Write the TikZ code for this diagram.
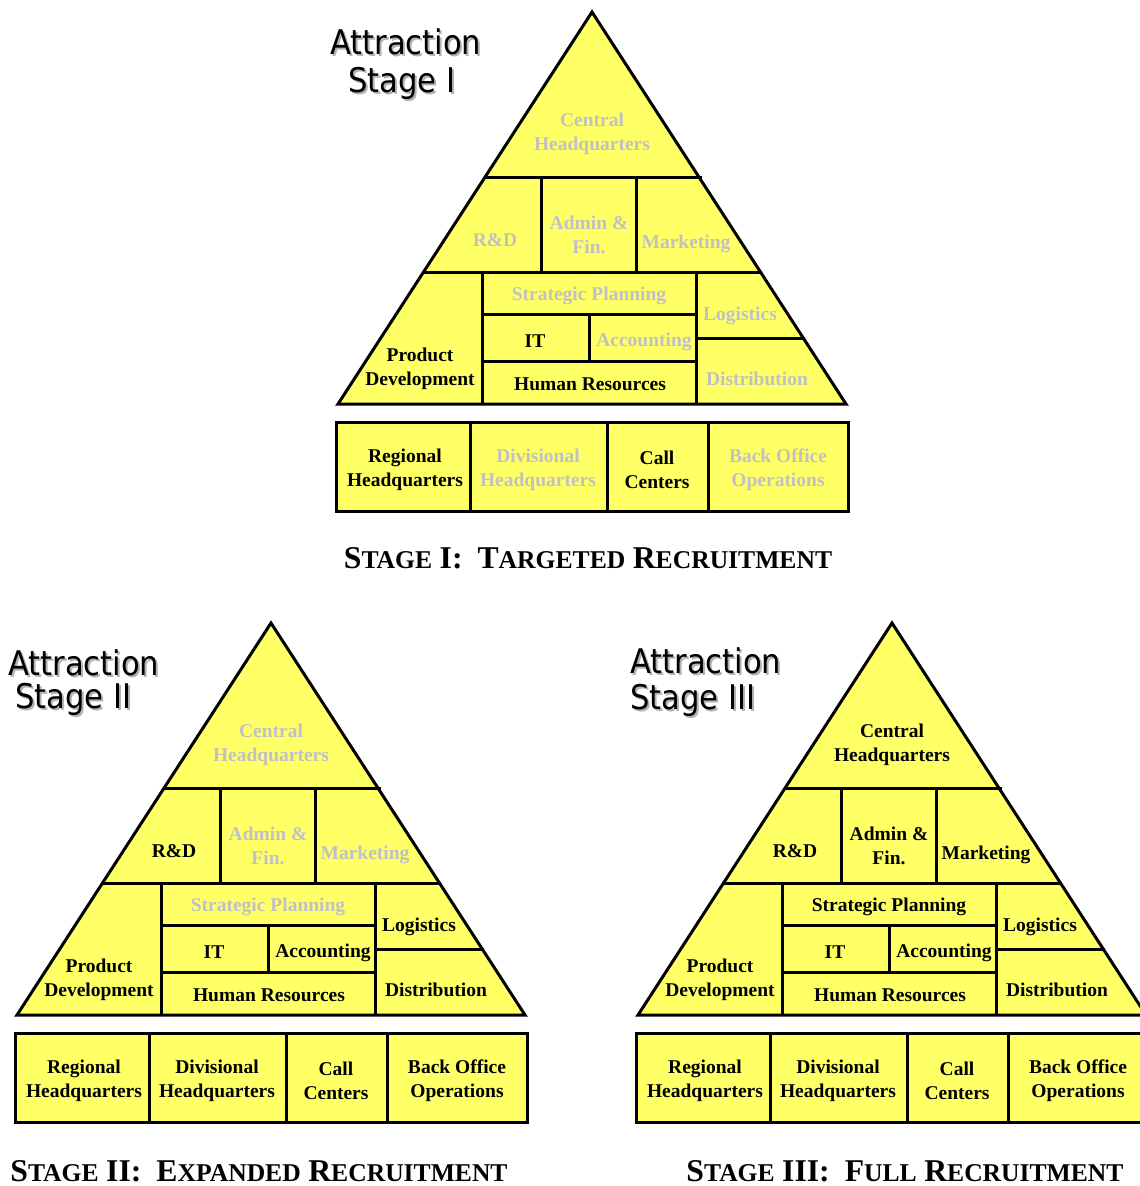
\documentclass[tikz,border=0pt]{standalone}
\usepackage{fontspec}
\setmainfont{Liberation Serif}
\newfontfamily\attrfont{DejaVu Sans Condensed}
\definecolor{pyr}{RGB}{255,255,102}
\definecolor{dim}{RGB}{192,192,198}

% fake small caps for the stage titles
\newcommand\tbig[1]{{\fontsize{31.7}{32}\selectfont #1}}
\newcommand\tsm[1]{{\fontsize{25.6}{26}\selectfont #1}}

\tikzset{
  wall/.style={line width=3pt},
  lbl/.style={font=\fontsize{19.5}{24}\selectfont\bfseries, align=center, inner sep=0pt, yshift=-2.5pt},
  lblon/.style={lbl, text=black},
  lbloff/.style={lbl, text=dim},
  attr/.style={font=\attrfont\fontsize{34}{34}\selectfont, anchor=base west, inner sep=0pt},
  attrshadow/.style={attr, text=black!30},
  stagetitle/.style={font=\bfseries\fontsize{30}{30}\selectfont, anchor=base, inner sep=0pt},
}

% one pyramid with its row of boxes; #1 is the node-name prefix
\newcommand\orgpyramid[1]{%
  \filldraw[fill=pyr, wall] (592,12) -- (846,404) -- (338,404) -- cycle;
  \draw[wall] (485,177) -- (702,177);
  \draw[wall] (423,272) -- (762,272);
  \draw[wall] (541,177) -- (541,272);
  \draw[wall] (636,177) -- (636,272);
  \draw[wall] (482,272) -- (482,404);
  \draw[wall] (696,272) -- (696,404);
  \draw[wall] (482,314) -- (696,314);
  \draw[wall] (482,361) -- (696,361);
  \draw[wall] (589,314) -- (589,361);
  \draw[wall] (696,338) -- (805,338);
  \node[sHQ] (#1hq) at (592,131) {Central\\Headquarters};
  \node[sRD] (#1rd) at (495,238) {R\&D};
  \node[sAF] (#1af) at (589,232) {Admin \&\\Fin.};
  \node[sMK] (#1mk) at (686,241) {Marketing};
  \node[sSP] (#1sp) at (589,293) {Strategic Planning};
  \node[sLG] (#1lg) at (740,313) {Logistics};
  \node[sIT] (#1it) at (535,339) {IT};
  \node[sAC] (#1ac) at (644,339) {Accounting};
  \node[sPD] (#1pd) at (420,366) {Product\\Development};
  \node[sHR] (#1hr) at (590,382) {Human Resources};
  \node[sDS] (#1ds) at (757,376) {Distribution};
  \filldraw[fill=pyr, wall] (336,422) rectangle (848,511);
  \draw[wall] (470,422) -- (470,511);
  \draw[wall] (607,422) -- (607,511);
  \draw[wall] (708,422) -- (708,511);
  \node[sRG] (#1rg) at (405,467) {Regional\\Headquarters};
  \node[sDV] (#1dv) at (538,467) {Divisional\\Headquarters};
  \node[sCC] (#1cc) at (657,467) {Call\\Centers};
  \node[sBO] (#1bo) at (778,467) {Back Office\\Operations};
}

\begin{document}
\begin{tikzpicture}[x=1pt, y=-1pt]
\useasboundingbox (0,0) rectangle (1140,1186);

% Stage I
\begin{scope}[sHQ/.style=lbloff, sRD/.style=lbloff, sAF/.style=lbloff, sMK/.style=lbloff,
  sSP/.style=lbloff, sLG/.style=lbloff, sIT/.style=lblon, sAC/.style=lbloff,
  sPD/.style=lblon, sHR/.style=lblon, sDS/.style=lbloff,
  sRG/.style=lblon, sDV/.style=lbloff, sCC/.style=lblon, sBO/.style=lbloff]
  \orgpyramid{a}
\end{scope}

% Stage II
\begin{scope}[shift={(-321,611)},
  sHQ/.style=lbloff, sRD/.style=lblon, sAF/.style=lbloff, sMK/.style=lbloff,
  sSP/.style=lbloff, sLG/.style=lblon, sIT/.style=lblon, sAC/.style=lblon,
  sPD/.style=lblon, sHR/.style=lblon, sDS/.style=lblon,
  sRG/.style=lblon, sDV/.style=lblon, sCC/.style=lblon, sBO/.style=lblon]
  \orgpyramid{b}
\end{scope}

% Stage III
\begin{scope}[shift={(300,611)},
  sHQ/.style=lblon, sRD/.style=lblon, sAF/.style=lblon, sMK/.style=lblon,
  sSP/.style=lblon, sLG/.style=lblon, sIT/.style=lblon, sAC/.style=lblon,
  sPD/.style=lblon, sHR/.style=lblon, sDS/.style=lblon,
  sRG/.style=lblon, sDV/.style=lblon, sCC/.style=lblon, sBO/.style=lblon]
  \orgpyramid{c}
\end{scope}

% "Attraction" captions with their soft shadows
\node[attrshadow] (aAtts) at (332,56) {Attraction};
\node[attrshadow] (aStgs) at (350,94) {Stage I};
\node[attr] (aAtt) at (330,54) {Attraction};
\node[attr] (aStg) at (348,92) {Stage I};

\node[attrshadow] (bAtts) at (10,677) {Attraction};
\node[attrshadow] (bStgs) at (17,710) {Stage II};
\node[attr] (bAtt) at (8,675) {Attraction};
\node[attr] (bStg) at (15,708) {Stage II};

\node[attrshadow] (cAtts) at (632,675) {Attraction};
\node[attrshadow] (cStgs) at (632,711) {Stage III};
\node[attr] (cAtt) at (630,673) {Attraction};
\node[attr] (cStg) at (630,709) {Stage III};

% stage titles
\node[stagetitle] (aTitle) at (588,568)
  {\tbig{S}\tsm{TAGE} \tbig{I:}\ \ \tbig{T}\tsm{ARGETED} \tbig{R}\tsm{ECRUITMENT}};
\node[stagetitle] (bTitle) at (259,1181)
  {\tbig{S}\tsm{TAGE} \tbig{II:}\ \ \tbig{E}\tsm{XPANDED} \tbig{R}\tsm{ECRUITMENT}};
\node[stagetitle] (cTitle) at (905,1181)
  {\tbig{S}\tsm{TAGE} \tbig{III:}\ \ \tbig{F}\tsm{ULL} \tbig{R}\tsm{ECRUITMENT}};
\end{tikzpicture}
\end{document}
